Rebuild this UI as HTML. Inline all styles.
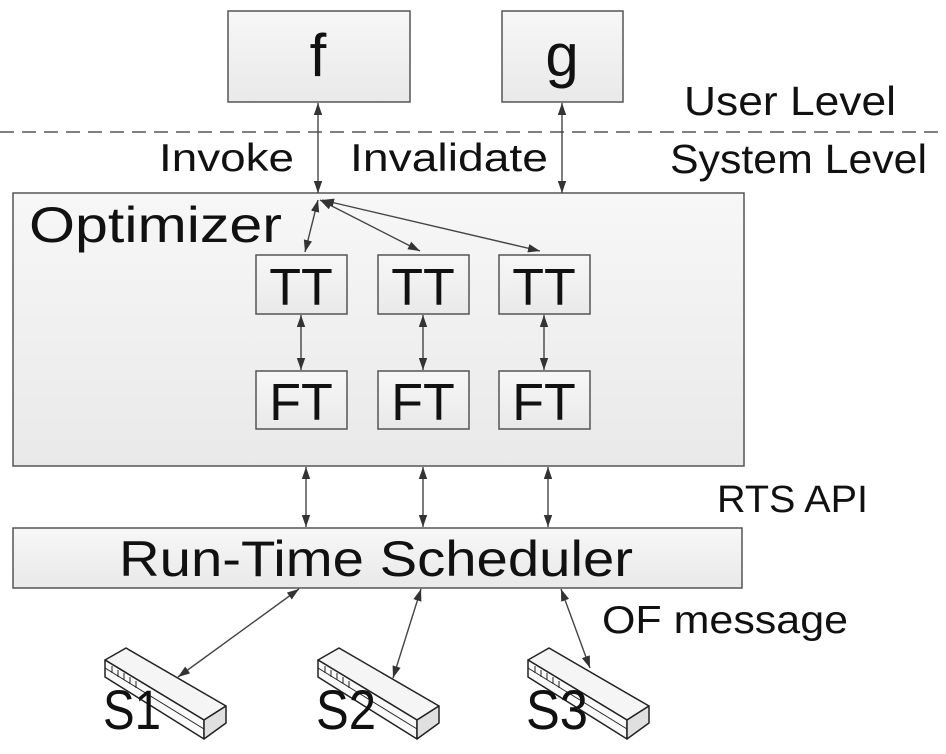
<!DOCTYPE html>
<html><head><meta charset="utf-8"><style>html,body{margin:0;padding:0;background:#fff}svg{display:block}</style></head>
<body>
<svg width="946" height="754" viewBox="0 0 946 754" xmlns="http://www.w3.org/2000/svg" font-family="Liberation Sans, sans-serif" fill="#111">
<defs>
<linearGradient id="g" x1="0" y1="0" x2="0" y2="1"><stop offset="0" stop-color="#f7f7f7"/><stop offset="1" stop-color="#e9e9e9"/></linearGradient>
<marker id="a" viewBox="0 0 10 10" refX="10" refY="5" markerWidth="12" markerHeight="12" markerUnits="userSpaceOnUse" orient="auto-start-reverse"><path d="M0,1.5 L10,5 L0,8.5 z" fill="#333"/></marker>
</defs>
<g stroke="#555" stroke-width="1.5" fill="url(#g)">
<rect x="228" y="11" width="182" height="91"/>
<rect x="502" y="11" width="121" height="91"/>
<rect x="13" y="193" width="731" height="273"/>
<rect x="256" y="255" width="91" height="59"/>
<rect x="378" y="255" width="91" height="59"/>
<rect x="499" y="255" width="91" height="59"/>
<rect x="256" y="371" width="91" height="58"/>
<rect x="378" y="371" width="91" height="58"/>
<rect x="499" y="371" width="91" height="58"/>
<rect x="13" y="528" width="729" height="60"/>
</g>
<line x1="0" y1="132" x2="946" y2="132" stroke="#555" stroke-width="1.5" stroke-dasharray="14,8"/>
<g stroke="#444" stroke-width="1.4" marker-start="url(#a)" marker-end="url(#a)">
<line x1="318" y1="103" x2="318" y2="193"/>
<line x1="562" y1="103" x2="562" y2="193"/>
<line x1="318" y1="200" x2="305" y2="252"/>
<line x1="320" y1="200" x2="420" y2="251"/>
<line x1="322" y1="200" x2="540" y2="251"/>
<line x1="301" y1="315" x2="301" y2="370"/>
<line x1="423" y1="315" x2="423" y2="370"/>
<line x1="544" y1="315" x2="544" y2="370"/>
<line x1="306" y1="467" x2="306" y2="527"/>
<line x1="423" y1="467" x2="423" y2="527"/>
<line x1="548" y1="467" x2="548" y2="527"/>
<line x1="299" y1="589" x2="178" y2="677"/>
<line x1="421" y1="589" x2="393" y2="678"/>
<line x1="561" y1="589" x2="590" y2="668"/>
</g>
<g id="sw" stroke="#222" stroke-width="1.5" stroke-linejoin="round">
<polygon points="105,660 126,648 226,706 204,720" fill="#f5f5f5"/>
<polygon points="105,660 204,720 204,739 105,677" fill="#fafafa"/>
<polygon points="204,720 226,706 226,723 204,739" fill="#e0e0e0"/>
<line x1="105" y1="668" x2="204" y2="729" stroke-width="1"/>
<g stroke-width="1"><line x1="112" y1="666" x2="112" y2="673"/><line x1="118" y1="670" x2="118" y2="677"/><line x1="124" y1="673" x2="124" y2="680"/><line x1="130" y1="677" x2="130" y2="684"/><line x1="136" y1="681" x2="136" y2="688"/></g>
</g>
<use href="#sw" x="213"/>
<use href="#sw" x="423"/>
<g font-size="60" text-anchor="middle"><text x="318" y="76">f</text><text x="562" y="76">g</text></g>
<text x="684" y="115" font-size="41" textLength="212" lengthAdjust="spacingAndGlyphs">User Level</text>
<text x="670" y="173" font-size="41" textLength="257" lengthAdjust="spacingAndGlyphs">System Level</text>
<text x="159" y="171" font-size="39" textLength="135" lengthAdjust="spacingAndGlyphs">Invoke</text>
<text x="350" y="171" font-size="39" textLength="198" lengthAdjust="spacingAndGlyphs">Invalidate</text>
<text x="29" y="242" font-size="50" textLength="253" lengthAdjust="spacingAndGlyphs">Optimizer</text>
<g font-size="52" text-anchor="middle">
<text x="301" y="305">TT</text><text x="423" y="305">TT</text><text x="544" y="305">TT</text>
<text x="301" y="420">FT</text><text x="423" y="420">FT</text><text x="544" y="420">FT</text>
</g>
<text x="717" y="512" font-size="38" textLength="151" lengthAdjust="spacingAndGlyphs">RTS API</text>
<text x="119" y="576" font-size="50" textLength="514" lengthAdjust="spacingAndGlyphs">Run-Time Scheduler</text>
<text x="602" y="633" font-size="39" textLength="246" lengthAdjust="spacingAndGlyphs">OF message</text>
<g font-size="56"><text x="103" y="729" textLength="58" lengthAdjust="spacingAndGlyphs">S1</text><text x="316" y="729" textLength="60" lengthAdjust="spacingAndGlyphs">S2</text><text x="526" y="729" textLength="62" lengthAdjust="spacingAndGlyphs">S3</text></g>
</svg>
</body></html>
